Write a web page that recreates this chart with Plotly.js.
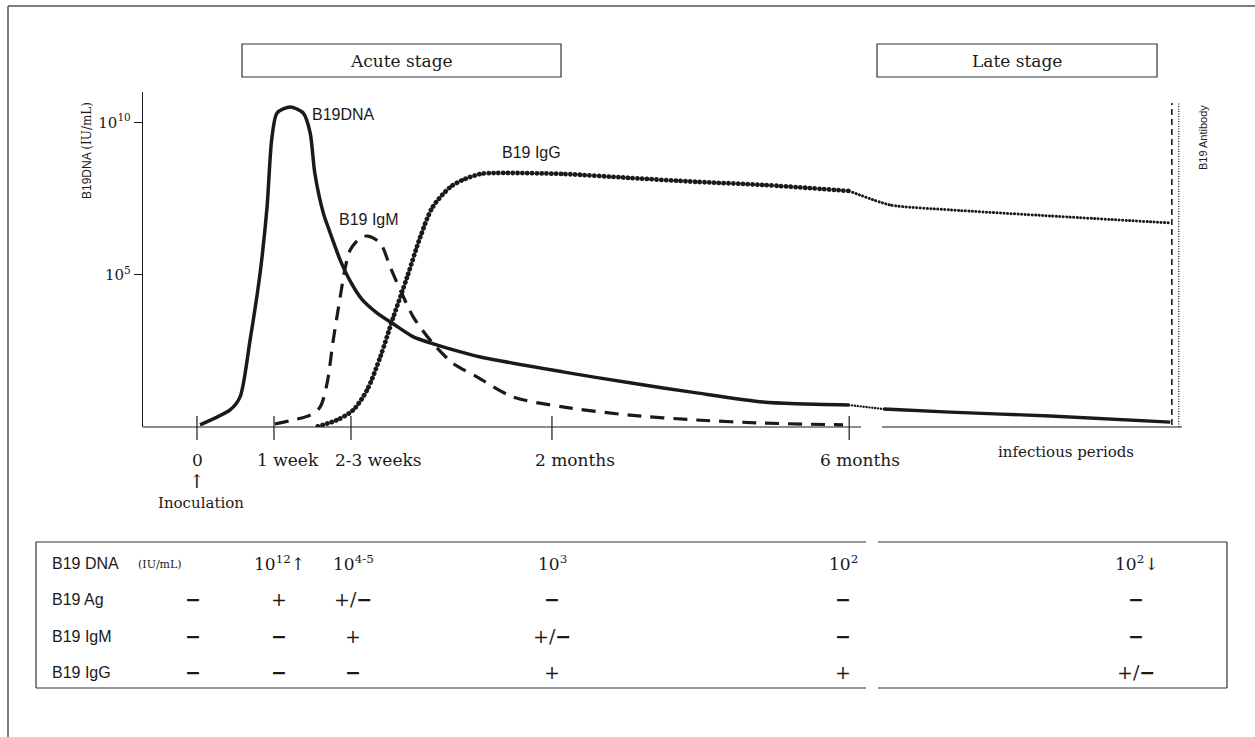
<!DOCTYPE html>
<html>
<head>
<meta charset="utf-8">
<script src="https://cdn.plot.ly/plotly-3.0.1.min.js"></script>
<style>
  html, body { margin: 0; padding: 0; background: #fff; }
  #chart { width: 1255px; height: 737px; }
</style>
</head>
<body>
<div id="chart"></div>
<script>
// ---------------- DATA ----------------
// x: schematic time units (0 = inoculation, 1 = 1 week, 2 = 2-3 weeks, ...)
// y: log10 of level (IU/mL)
const tickPositions = [0, 1, 2, 4.61, 8.47];
const tickLabels = ['0', '1 week', '2-3 weeks', '2 months', '6 months'];

const dnaX = [0.04, 0.43, 0.56, 0.69, 0.82, 0.91, 0.97, 1.04, 1.21, 1.38, 1.47, 1.53, 1.64, 1.73, 1.86, 1.99, 2.14, 2.34, 2.57, 2.81, 3.03, 3.25, 3.68, 4.75, 5.62, 6.49, 7.35, 7.79, 8.47];
const dnaLog = [0.07, 0.56, 0.99, 2.86, 5.06, 7.22, 9.43, 10.31, 10.51, 10.31, 9.66, 8.34, 7.03, 6.37, 5.48, 4.79, 4.20, 3.74, 3.35, 2.96, 2.76, 2.59, 2.30, 1.81, 1.45, 1.12, 0.82, 0.76, 0.72];
const dnaGapX = [8.47, 8.92];
const dnaGapLog = [0.72, 0.59];
const dnaLateX = [8.92, 9.78, 11.08, 12.64];
const dnaLateLog = [0.59, 0.49, 0.36, 0.16];

const igmX = [1.01, 1.25, 1.47, 1.60, 1.69, 1.77, 1.86, 1.92, 1.99, 2.12, 2.22, 2.38, 2.51, 2.64, 2.81, 3.06, 3.32, 3.64, 4.10, 4.75, 5.62, 6.49, 7.35, 8.39];
const igmLog = [0.10, 0.23, 0.39, 0.66, 1.44, 2.86, 4.27, 5.16, 5.81, 6.21, 6.27, 6.04, 5.25, 4.50, 3.61, 2.76, 2.10, 1.64, 0.99, 0.66, 0.39, 0.23, 0.13, 0.07];

const iggX = [1.57, 1.82, 2.03, 2.21, 2.38, 2.55, 2.73, 2.90, 3.06, 3.29, 3.45, 3.68, 3.90, 4.75, 5.62, 6.49, 7.35, 8.47];
const iggLog = [0.02, 0.23, 0.56, 1.22, 2.30, 3.61, 4.93, 6.24, 7.22, 7.88, 8.11, 8.31, 8.34, 8.31, 8.18, 8.05, 7.95, 7.75];
const iggLateX = [8.47, 9.00, 9.78, 11.08, 12.64];
const iggLateLog = [7.75, 7.29, 7.13, 6.93, 6.70];

const yTickLog = [5, 10];
const yTickText = ['10<sup>5</sup>', '10<sup>10</sup>'];

const antibodyLineX = [12.66, 12.75];

const tableRows = ['B19 DNA', 'B19 Ag', 'B19 IgM', 'B19 IgG'];
const dnaLevels = ['', '10<sup>12</sup>↑', '10<sup>4-5</sup>', '10<sup>3</sup>', '10<sup>2</sup>', '10<sup>2</sup>↓'];
const agStatus  = ['−', '+', '+/−', '−', '−', '−'];
const igmStatus = ['−', '−', '+', '+/−', '−', '−'];
const iggStatus = ['−', '−', '−', '+', '+', '+/−'];

// ---------------- LAYOUT HELPERS ----------------
const L = 143, R = 1182, T = 92, B = 427;
const W = R - L, H = B - T;
const px = x => (x - L) / W;
const py = y => (B - y) / H;
const ink = '#1a1a1a';
const serif = 'DejaVu Serif, Liberation Serif, serif';
const sans = 'Liberation Sans, Arial, sans-serif';
const pow = a => a.map(v => Math.pow(10, v));

const traces = [
  {x: dnaX, y: pow(dnaLog), mode: 'lines', line: {color: ink, width: 3.5, shape: 'spline', smoothing: 0.7}},
  {x: dnaGapX, y: pow(dnaGapLog), mode: 'lines', line: {color: ink, width: 2.4, dash: '0.1px,2.8px'}},
  {x: dnaLateX, y: pow(dnaLateLog), mode: 'lines', line: {color: ink, width: 3.4, shape: 'spline', smoothing: 0.6}},
  {x: igmX, y: pow(igmLog), mode: 'lines', line: {color: ink, width: 3.2, dash: '14px,9px', shape: 'spline', smoothing: 0.8}},
  {x: iggX, y: pow(iggLog), mode: 'lines', line: {color: ink, width: 4.8, dash: '0.1px,4.7px', shape: 'spline', smoothing: 0.8}},
  {x: iggLateX, y: pow(iggLateLog), mode: 'lines', line: {color: ink, width: 3.0, dash: '0.1px,3.4px', shape: 'spline', smoothing: 0.6}}
];
traces.forEach(t => { t.showlegend = false; t.hoverinfo = 'skip'; });

const shapes = [];
const line = (x0, y0, x1, y1, w, c, dash) => shapes.push({
  type: 'line', xref: 'paper', yref: 'paper', x0: px(x0), y0: py(y0), x1: px(x1), y1: py(y1),
  line: {color: c || '#333', width: w || 1.2, dash: dash || 'solid'}
});

// outer frame
line(8, 6, 1262, 6, 1.5, '#555');
line(8, 6, 8, 745, 1.5, '#555');

// x axis (broken)
line(L, B, 861, B, 1.2, ink);
line(882, B, R, B, 1.2, ink);
tickPositions.forEach(t => {
  shapes.push({type: 'line', xref: 'x', yref: 'paper', x0: t, x1: t, y0: py(440), y1: py(416),
    line: {color: ink, width: 1.2}});
});

// antibody vertical lines
shapes.push({type: 'line', xref: 'x', yref: 'paper', x0: antibodyLineX[0], x1: antibodyLineX[0], y0: py(425), y1: py(103),
  line: {color: ink, width: 1.6, dash: '6px,4px'}});
shapes.push({type: 'line', xref: 'x', yref: 'paper', x0: antibodyLineX[1], x1: antibodyLineX[1], y0: py(427), y1: py(103),
  line: {color: ink, width: 1.2, dash: '1px,1.5px'}});

// stage boxes
const rect = (x0, y0, x1, y1) => shapes.push({type: 'rect', xref: 'paper', yref: 'paper',
  x0: px(x0), y0: py(y0), x1: px(x1), y1: py(y1), line: {color: '#333', width: 1.2}, fillcolor: 'rgba(0,0,0,0)'});
rect(242, 44, 561, 77);
rect(877, 44, 1157, 77);

// table box (with small break under 6 months)
const tTop = 542, tBot = 688;
line(36, tTop, 866, tTop, 1.2, '#333');
line(878, tTop, 1227, tTop, 1.2, '#333');
line(36, tBot, 866, tBot, 1.2, '#333');
line(878, tBot, 1227, tBot, 1.2, '#333');
line(36, tTop, 36, tBot, 1.2, '#333');
line(1227, tTop, 1227, tBot, 1.2, '#333');

const annotations = [];
const txt = (x, y, text, size, family, opts) => annotations.push(Object.assign({
  xref: 'paper', yref: 'paper', x: px(x), y: py(y), text: text, showarrow: false,
  xanchor: 'center', yanchor: 'middle', font: {size: size, family: family, color: ink}
}, opts || {}));

txt(401, 61, 'Acute stage', 17, serif);
txt(1017, 61, 'Late stage', 17, serif);

// y-axis title
txt(87, 151, 'B19DNA <span style="font-family:DejaVu Serif">(IU/mL)</span>', 12, sans, {textangle: -90});
// antibody label
txt(1203, 138, 'B19 Antibody', 11, sans, {textangle: -90});

// curve labels (data coords)
const lab = (x, yl, text) => annotations.push({xref: 'x', yref: 'y', x: x, y: yl, text: text, showarrow: false,
  xanchor: 'left', yanchor: 'middle', font: {size: 16, family: sans, color: ink}});
lab(1.47, 10.25, 'B19DNA');
lab(1.82, 6.83, 'B19 IgM');
lab(3.94, 9.03, 'B19 IgG');

// x tick labels
const labelCentersPx = [197, 288, 378, 575, 860];
tickLabels.forEach((t, i) => txt(labelCentersPx[i], 460, t, 17, serif));
txt(197, 481, '↑', 19, serif);
txt(201, 503, 'Inoculation', 15, serif);
txt(1066, 452, 'infectious periods', 15, serif);

// table
const rowY = [563, 599, 636, 672];
const colX = [193, 279, 353, 552, 843, 1136];
const sym = v => v.replace(/−/g, '<b><span style="font-family:DejaVu Sans">−</span></b>');
tableRows.forEach((r, i) => txt(50, rowY[i], r, 16, sans, {xanchor: 'left'}));
txt(136, 564, '(IU/mL)', 11, serif, {xanchor: 'left'});
[dnaLevels, agStatus, igmStatus, iggStatus].forEach((row, ri) => {
  row.forEach((v, ci) => { if (v) txt(colX[ci], rowY[ri], ri === 0 ? v : sym(v), ri === 0 ? 17 : 19, serif); });
});

const layout = {
  width: 1255, height: 737,
  margin: {l: L, r: 1255 - R, t: T, b: 737 - B, pad: 0},
  paper_bgcolor: '#fff', plot_bgcolor: '#fff',
  showlegend: false,
  xaxis: {range: [-0.701, 12.792], showgrid: false, zeroline: false, showline: false,
    showticklabels: false, ticks: '', fixedrange: true},
  yaxis: {type: 'log', range: [0, 11], showgrid: false, zeroline: false, showline: true,
    linecolor: ink, linewidth: 1.2, ticks: 'outside', ticklen: 8, tickwidth: 1.2, tickcolor: ink,
    tickvals: pow(yTickLog), ticktext: yTickText, tickfont: {family: serif, size: 15, color: ink}, fixedrange: true},
  shapes: shapes,
  annotations: annotations
};

Plotly.newPlot('chart', traces, layout, {staticPlot: true, displayModeBar: false}).then(() => {
  const tr = document.querySelectorAll('.scatterlayer .trace');
  [1, 4, 5].forEach(i => {
    if (tr[i]) tr[i].querySelectorAll('path.js-line').forEach(p => p.style.strokeLinecap = 'round');
  });
});
</script>
</body>
</html>
